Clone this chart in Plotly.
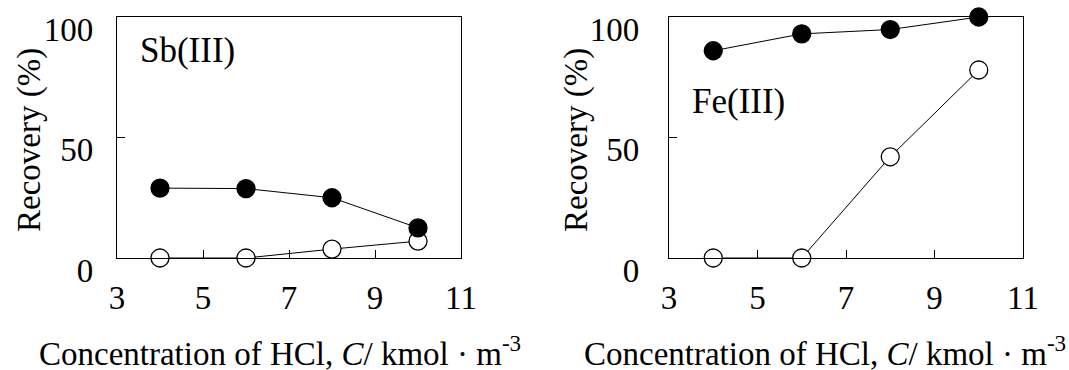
import plotly.graph_objects as go
from plotly.subplots import make_subplots

hcl = [4, 6, 8, 10]
sb_filled = [29, 28.8, 25, 12.5]
sb_open = [0, 0, 3.7, 7]
fe_filled = [86, 93, 94.8, 100]
fe_open = [0, 0, 42, 78]
x_ticks = [3, 5, 7, 9, 11]
y_ticks = [0, 50, 100]
panel_labels = ["Sb(III)", "Fe(III)"]
x_title = "Concentration of HCl, <i>C</i>/ kmol · m<sup>-3</sup>"
y_title = "Recovery (%)"

FONT = "Liberation Serif"

fig = make_subplots(rows=1, cols=2)

def add_series(xs, ys, filled, col):
    fig.add_trace(go.Scatter(
        x=xs, y=ys, mode="lines+markers", cliponaxis=False,
        line=dict(color="black", width=1),
        marker=dict(size=18, symbol="circle",
                    color="black" if filled else "white",
                    line=dict(color="black", width=1.3)),
        showlegend=False), row=1, col=col)

add_series(hcl, sb_open, False, 1)
add_series(hcl, sb_filled, True, 1)
add_series(hcl, fe_open, False, 2)
add_series(hcl, fe_filled, True, 2)

axis_common_x = dict(range=[3, 11], tickvals=x_ticks, ticks="inside", ticklen=8,
                     tickwidth=1, tickcolor="black", showline=True, linecolor="black",
                     linewidth=1.3, mirror=True, showgrid=False, zeroline=False,
                     automargin=False,
                     tickfont=dict(family=FONT, size=33, color="black"),
                     ticklabelstandoff=10)
axis_common_y = dict(range=[0, 100], tickvals=y_ticks, ticks="inside", ticklen=8,
                     tickwidth=1, tickcolor="black", showline=True, linecolor="black",
                     linewidth=1.3, mirror=True, showgrid=False, zeroline=False,
                     automargin=False,
                     tickfont=dict(family=FONT, size=33, color="black"),
                     ticklabelshift=12)

fig.update_layout(
    template="none",
    width=1069, height=370, margin=dict(l=0, r=0, t=0, b=0),
    paper_bgcolor="white", plot_bgcolor="white",
    font=dict(family=FONT, color="black"),
    xaxis=dict(domain=[117/1069, 461/1069], **axis_common_x),
    xaxis2=dict(domain=[669/1069, 1023/1069], **axis_common_x),
    yaxis=dict(domain=[112/370, 353/370], ticklabelstandoff=16, **axis_common_y),
    yaxis2=dict(domain=[112/370, 353/370], ticklabelstandoff=22, **axis_common_y),
)

fig.add_annotation(x=0.06, y=0.86, xref="x domain", yref="y domain", text=panel_labels[0],
                   showarrow=False, xanchor="left", yanchor="middle",
                   font=dict(family=FONT, size=35, color="black"))
fig.add_annotation(x=0.06, y=0.65, xref="x2 domain", yref="y2 domain", text=panel_labels[1],
                   showarrow=False, xanchor="left", yanchor="middle",
                   font=dict(family=FONT, size=35, color="black"))

for cx in (280, 825):
    fig.add_annotation(x=cx / 1069, y=(370 - 351) / 370, xref="paper", yref="paper",
                       yanchor="middle", xanchor="center", text=x_title, showarrow=False,
                       font=dict(family=FONT, size=33, color="black"))

for cx in (29, 576):
    fig.add_annotation(x=cx / 1069, y=(370 - 140) / 370, xref="paper", yref="paper",
                       yanchor="middle", xanchor="center", text=y_title, textangle=-90,
                       showarrow=False, font=dict(family=FONT, size=33, color="black"))

fig.write_html("out.html", config={"displayModeBar": False},
               post_script="document.body.style.margin='0';")
